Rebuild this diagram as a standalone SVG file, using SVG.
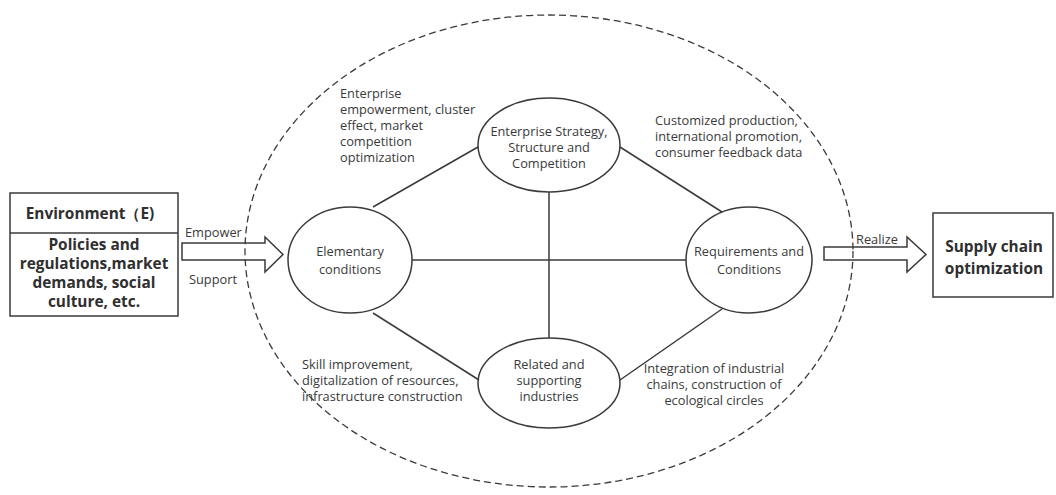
<svg xmlns="http://www.w3.org/2000/svg" width="1056" height="495" viewBox="0 0 1056 495">
<style>
text{font-family:"Open Sans","Noto Sans","Liberation Sans",sans-serif;font-size:12.8px;fill:#3a3a3a}
.b{font-weight:bold;font-size:15.4px;fill:#2f2f2f}
.c{text-anchor:middle}
.s{fill:none;stroke:#3a3a3a;stroke-width:1.5}
.d{fill:none;stroke:#3a3a3a;stroke-width:1.3;stroke-dasharray:7 4}
</style>
<rect width="1056" height="495" fill="#fff"/>
<ellipse id="boundary" class="d" cx="549" cy="251" rx="304" ry="236"/>
<g id="connectors">
<line class="s" x1="478" y1="147" x2="373" y2="207"/>
<line class="s" x1="620" y1="147" x2="722" y2="212"/>
<line class="s" x1="549" y1="192" x2="549" y2="338"/>
<line class="s" x1="412" y1="260" x2="686" y2="260"/>
<line class="s" x1="373" y1="313" x2="479" y2="380"/>
<line class="s" x1="620" y1="380" x2="722" y2="309"/>
<path class="s" d="M182,243 H265 V237 L283,254.5 L265,272 V260 H182 Z"/>
<path class="s" d="M824,247 H907 V237 L926,254.5 L907,272 V260 H824 Z"/>
</g>
<g id="env">
<rect class="s" x="10" y="193" width="168" height="123"/>
<line class="s" x1="10" y1="233" x2="178" y2="233"/>
<text class="b c" x="90" y="219">Environment（E)</text>
<text class="b c" x="94" y="250">Policies and</text>
<text class="b c" x="94" y="269">regulations,market</text>
<text class="b c" x="94" y="288">demands, social</text>
<text class="b c" x="94" y="307">culture, etc.</text>
</g>
<text x="185" y="237">Empower</text>
<text x="189" y="284">Support</text>
<text x="856" y="244">Realize</text>
<g id="supply">
<rect class="s" x="933" y="213" width="120" height="84"/>
<text class="b c" x="994" y="252">Supply chain</text>
<text class="b c" x="994" y="274">optimization</text>
</g>
<g id="strategy">
<ellipse class="s" cx="549" cy="145" rx="71" ry="47"/>
<text class="c" x="549" y="136">Enterprise Strategy,</text>
<text class="c" x="549" y="152">Structure and</text>
<text class="c" x="549" y="168">Competition</text>
</g>
<g id="elementary">
<ellipse class="s" cx="350" cy="260" rx="62" ry="53"/>
<text class="c" x="350" y="256">Elementary</text>
<text class="c" x="350" y="274">conditions</text>
</g>
<g id="requirements">
<ellipse class="s" cx="749" cy="260" rx="63" ry="53"/>
<text class="c" x="749" y="256">Requirements and</text>
<text class="c" x="749" y="274">Conditions</text>
</g>
<g id="related">
<ellipse class="s" cx="549" cy="383" rx="71" ry="45"/>
<text class="c" x="549" y="369">Related and</text>
<text class="c" x="549" y="385">supporting</text>
<text class="c" x="549" y="401">industries</text>
</g>
<g id="labels">
<text x="340" y="98">Enterprise</text>
<text x="340" y="114">empowerment, cluster</text>
<text x="340" y="130">effect, market</text>
<text x="340" y="146">competition</text>
<text x="340" y="162">optimization</text>
<text x="655" y="125">Customized production,</text>
<text x="655" y="141">international promotion,</text>
<text x="655" y="157">consumer feedback data</text>
<text x="302" y="369">Skill improvement,</text>
<text x="302" y="385">digitalization of resources,</text>
<text x="302" y="401">infrastructure construction</text>
<text class="c" x="714" y="373">Integration of industrial</text>
<text class="c" x="714" y="389">chains, construction of</text>
<text class="c" x="714" y="405">ecological circles</text>
</g>
</svg>
